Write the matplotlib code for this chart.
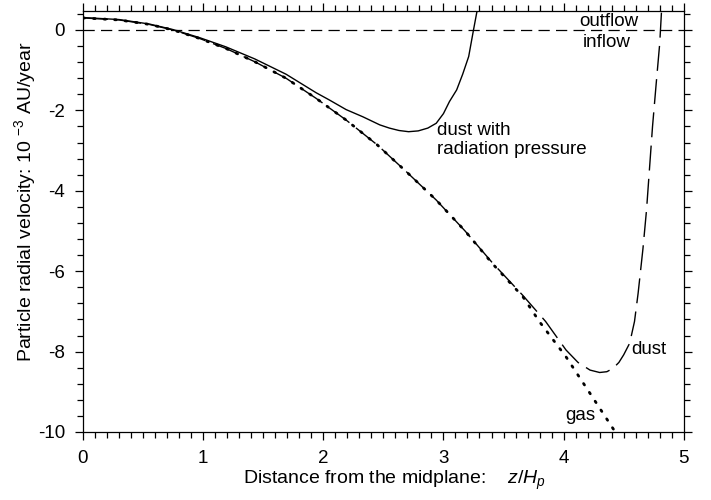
import numpy as np
import matplotlib
matplotlib.use("Agg")
import matplotlib.pyplot as plt
from matplotlib.ticker import MultipleLocator, AutoMinorLocator

plt.rcParams['font.family'] = ['Liberation Sans', 'DejaVu Sans']
plt.rcParams['mathtext.fontset'] = 'custom'
plt.rcParams['mathtext.rm'] = 'Liberation Sans'
plt.rcParams['mathtext.it'] = 'Liberation Sans:italic'
plt.rcParams['axes.unicode_minus'] = False

# Data (z/Hp, velocity in 1e-3 AU/yr)
gas_x = [0.0, 0.3, 0.55, 0.75, 0.97, 1.19, 1.43, 1.69, 1.94, 2.19, 2.45, 2.70, 2.94, 3.18, 3.41, 3.66, 3.80, 4.02, 4.22, 4.43]
gas_y = [0.30, 0.25, 0.14, 0.0, -0.21, -0.46, -0.79, -1.20, -1.70, -2.24, -2.86, -3.55, -4.23, -5.0, -5.82, -6.63, -7.26, -8.13, -9.04, -10.0]

dust_x = [0.0, 0.3, 0.55, 0.75, 0.97, 1.19, 1.43, 1.69, 1.94, 2.19, 2.45, 2.70, 2.94, 3.18, 3.41, 3.66, 3.85, 4.02, 4.12, 4.22, 4.30, 4.36, 4.41, 4.46, 4.50, 4.55, 4.59, 4.62, 4.66, 4.69, 4.74, 4.77, 4.80, 4.815]
dust_y = [0.30, 0.25, 0.14, 0.0, -0.21, -0.46, -0.79, -1.20, -1.70, -2.24, -2.86, -3.55, -4.23, -5.0, -5.80, -6.60, -7.25, -7.96, -8.27, -8.46, -8.52, -8.50, -8.42, -8.27, -8.08, -7.79, -7.25, -6.55, -5.45, -4.48, -2.40, -1.35, -0.33, 0.48]

rad_x = [0.0, 0.3, 0.55, 0.75, 0.97, 1.19, 1.43, 1.69, 1.94, 2.05, 2.19, 2.33, 2.47, 2.55, 2.63, 2.71, 2.79, 2.87, 2.94, 3.00, 3.05, 3.11, 3.16, 3.21, 3.25, 3.28]
rad_y = [0.31, 0.26, 0.15, 0.01, -0.19, -0.42, -0.72, -1.10, -1.56, -1.74, -1.98, -2.16, -2.36, -2.44, -2.50, -2.53, -2.51, -2.44, -2.32, -2.08, -1.78, -1.49, -1.10, -0.66, 0.0, 0.48]

fig = plt.figure(figsize=(7.11, 5.0), dpi=100)
ax = fig.add_axes([0.1167, 0.136, 0.845, 0.8426])

ax.axhline(0, color='black', lw=0.9, dashes=(9, 5))
ax.plot(gas_x, gas_y, color='black', lw=2.0, linestyle=(0, (0.6, 3.2)), dash_capstyle='round')
ax.plot(dust_x, dust_y, color='black', lw=1.0, dashes=(18, 6))
ax.plot(rad_x, rad_y, color='black', lw=1.0)

fs = 13.5
ax.text(4.38, 0.21, 'outflow', fontsize=fs, ha='center', va='center')
ax.text(4.36, -0.32, 'inflow', fontsize=fs, ha='center', va='center')
ax.text(2.95, -2.3, 'dust with\nradiation pressure', fontsize=fs, ha='left', va='top', linespacing=1.1)
ax.text(4.56, -7.96, 'dust', fontsize=fs, ha='left', va='center')
ax.text(4.01, -9.58, 'gas', fontsize=fs, ha='left', va='center')

ax.set_xlim(0, 5)
ax.set_ylim(-10, 0.48)
ax.xaxis.set_major_locator(MultipleLocator(1))
ax.xaxis.set_minor_locator(MultipleLocator(0.1))
ax.yaxis.set_major_locator(MultipleLocator(2))
ax.yaxis.set_minor_locator(AutoMinorLocator(5))
ax.tick_params(which='both', direction='out', top=True, right=True, labelsize=fs, width=0.9)
ax.tick_params(which='major', length=6, pad=7)
ax.tick_params(which='minor', length=4)
for s in ax.spines.values():
    s.set_linewidth(0.9)

ax.set_xlabel('Distance from the midplane:    $z/H_p$', fontsize=14, labelpad=1)
ax.set_ylabel('Particle radial velocity: 10 $^{-3}$ AU/year', fontsize=14, labelpad=0)
ax.xaxis.label.set_x(0.519)
ax.yaxis.label.set_y(0.546)

fig.savefig('out.png', dpi=100)
